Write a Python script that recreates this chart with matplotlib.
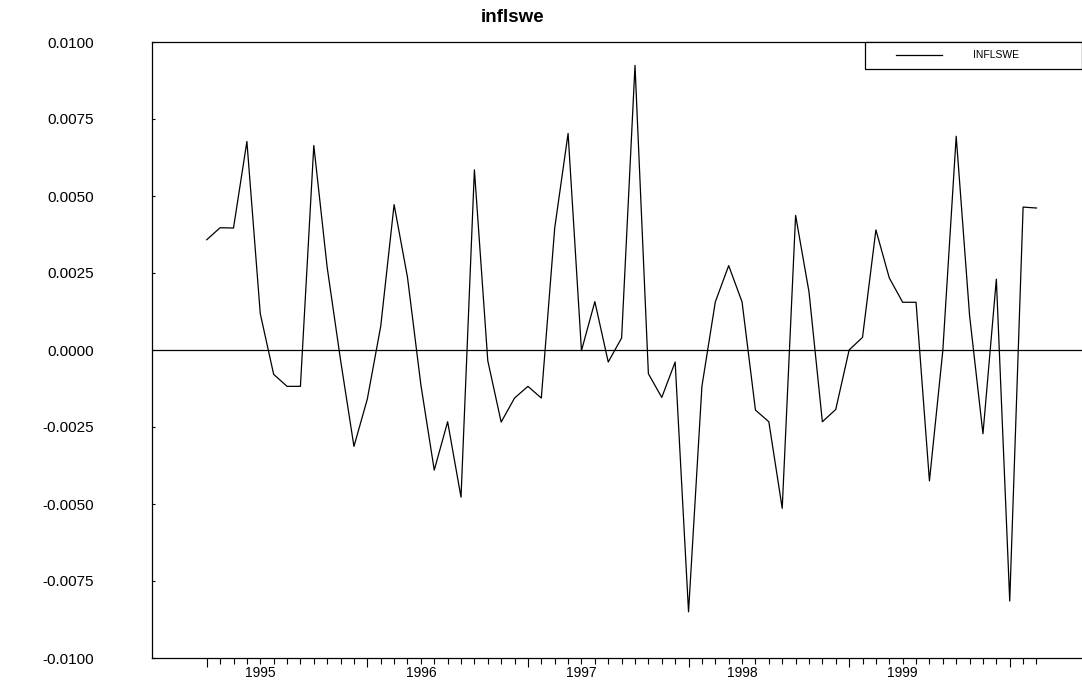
import numpy as np
import matplotlib
matplotlib.use("Agg")
import matplotlib.pyplot as plt
from matplotlib.patches import Rectangle
from matplotlib.lines import Line2D

plt.rcParams['font.family'] = ['Liberation Sans', 'DejaVu Sans']
plt.rcParams['axes.unicode_minus'] = False

# monthly inflation, 1994M09 .. 1999M11
inflswe = [
    0.00358, 0.00397, 0.00396, 0.00677, 0.00118, -0.00079, -0.00118, -0.00118,
    0.00664, 0.00268, -0.00033, -0.00313, -0.00159, 0.00077, 0.00472, 0.00236,
    -0.00113, -0.00390, -0.00233, -0.00478, 0.00585, -0.00035, -0.00234, -0.00156,
    -0.00118, -0.00156, 0.00396, 0.00703, -0.00002, 0.00157, -0.00039, 0.00039,
    0.00924, -0.00077, -0.00154, -0.00039, -0.00850, -0.00118, 0.00156, 0.00274,
    0.00156, -0.00195, -0.00233, -0.00514, 0.00437, 0.00189, -0.00233, -0.00193,
    0.00000, 0.00041, 0.00390, 0.00234, 0.00155, 0.00155, -0.00425, -0.00002,
    0.00694, 0.00112, -0.00272, 0.00230, -0.00815, 0.00464, 0.00461,
]
year_labels = ['1995', '1996', '1997', '1998', '1999']
first_month = 9   # september 1994
ytick_vals = [0.0100, 0.0075, 0.0050, 0.0025, 0.0, -0.0025, -0.0050, -0.0075, -0.0100]

n = len(inflswe)
idx = np.arange(n)

fig = plt.figure(figsize=(10.82, 6.83), dpi=100)
ax = fig.add_axes([152/1082, 1 - 658/683, 930/1082, 616/683])

ax.plot(idx, inflswe, color='black', lw=0.9)
ax.axhline(0, color='black', lw=0.9)

ax.set_xlim(-4.09, 65.4)
ax.set_ylim(-0.0100, 0.0100)

ax.spines['right'].set_visible(False)
for s in ['left', 'top', 'bottom']:
    ax.spines[s].set_linewidth(0.9)

# y axis
ax.set_yticks(ytick_vals)
ax.set_yticklabels(['%.4f' % v for v in ytick_vals])
ax.tick_params(axis='y', direction='in', length=2.5, width=0.8, pad=42, labelsize=11)

# x axis: long tick at the first obs of every 12, short tick every month,
# year label at january
jan_offset = (13 - first_month) % 12
major = list(range(0, n, 12))
ax.set_xticks(major)
ax.set_xticklabels([''] * len(major))
ax.set_xticks(idx, minor=True)
minor_labels = [''] * n
for k, yr in enumerate(year_labels):
    pos = jan_offset + 12 * k
    if pos < n:
        minor_labels[pos] = yr
ax.set_xticklabels(minor_labels, minor=True)
ax.tick_params(axis='x', which='major', direction='out', length=6.5, width=0.8)
ax.tick_params(axis='x', which='minor', direction='out', length=4, width=0.8,
               pad=1.5, labelsize=10)

fig.text(513/1082, 1 - 18/683, 'inflswe', ha='center', va='center',
         fontsize=13.5, fontweight='bold')

# legend box in the top right corner
ax.add_patch(Rectangle((0.7667, 0.956), 0.2333, 0.044, transform=ax.transAxes,
                       facecolor='white', edgecolor='black', lw=0.9,
                       clip_on=False, zorder=5))
ax.add_line(Line2D([0.800, 0.8495], [0.979, 0.979], transform=ax.transAxes,
                   color='black', lw=0.9, zorder=6))
ax.text(0.883, 0.979, 'INFLSWE', transform=ax.transAxes, fontsize=7.5,
        va='center', ha='left', zorder=6)

fig.savefig('out.png', dpi=100)
